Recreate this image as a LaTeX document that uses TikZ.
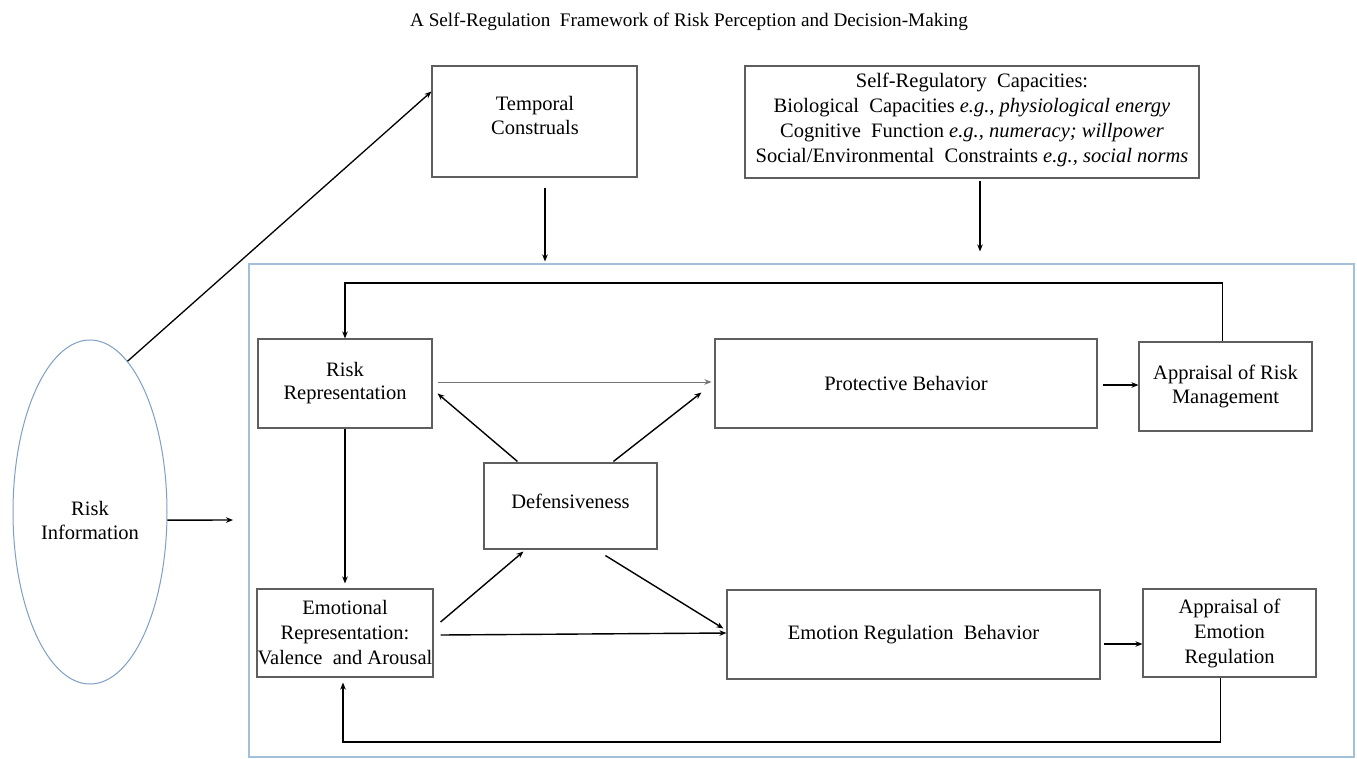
\documentclass[tikz,border=0pt]{standalone}
\usepackage{fontspec}
\setmainfont{Liberation Serif}
\usetikzlibrary{arrows.meta,calc,shapes.geometric}
\definecolor{framecol}{HTML}{A3C0DA}
\definecolor{ellcol}{HTML}{7F9FC6}
\definecolor{boxcol}{HTML}{5E5E5E}
\begin{document}
\begin{tikzpicture}[x=1pt,y=-1pt,
  box/.style={draw=boxcol, line width=1.1pt, align=center, inner sep=0pt, font=\fontsize{20.5}{24}\selectfont},
  lbl/.style={align=center, inner sep=0pt, font=\fontsize{20.5}{24}\selectfont},
  arr/.style={-{Stealth[length=7pt,width=5.5pt]}, line width=1.4pt, black},
  thinarr/.style={-{Stealth[length=7pt,width=5.5pt]}, line width=1pt, black!55}
]
\useasboundingbox (0,0) rectangle (1357,758);
\fill[white] (0,0) rectangle (1357,758);

\node[lbl, font=\fontsize{19.2}{22}\selectfont] (title) at (689,22) {A Self-Regulation\ \ Framework of Risk Perception and Decision-Making};

\node[draw=framecol, line width=1.1pt, minimum width=1105, minimum height=493, inner sep=0pt] (frame) at (801.5,510.5) {};

\node[draw=ellcol, line width=1pt, ellipse, minimum width=154, minimum height=344, inner sep=0pt] (ri) at (90,512) {};
\node[lbl] (rit) at (90,520) {Risk\\Information};

\node[box, minimum width=205, minimum height=111] (tc) at (534.5,121.5) {};
\node[lbl] (tct) at (535,115) {Temporal\\Construals};

\node[box, minimum width=454, minimum height=112] (src) at (972,122) {};
\node[lbl, font=\fontsize{20.5}{25}\selectfont] (srct) at (972,120) {Self-Regulatory\ \ Capacities:\\
Biological\ \ Capacities \textit{e.g., physiological energy}\\
Cognitive\ \ Function \textit{e.g., numeracy; willpower}\\
Social/Environmental\ \ Constraints \textit{e.g., social norms}};

\node[box, minimum width=174, minimum height=89, font=\fontsize{20.5}{23}\selectfont] (rr) at (345,383.5) {Risk\\Representation};
\node[box, minimum width=382, minimum height=89] (pb) at (906,383.5) {Protective Behavior};
\node[box, minimum width=173, minimum height=89] (arm) at (1225.5,386.5) {Appraisal of Risk\\Management};
\node[box, minimum width=173, minimum height=86] (def) at (570.5,506) {};
\node[lbl] (deft) at (570.5,501) {Defensiveness};
\node[box, minimum width=176, minimum height=88, font=\fontsize{20.5}{25}\selectfont] (er) at (345,633) {Emotional\\Representation:\\Valence\ \ and Arousal};
\node[box, minimum width=373, minimum height=89] (erb) at (913.5,634.5) {Emotion Regulation\ \ Behavior};
\node[box, minimum width=173, minimum height=88, font=\fontsize{20.5}{25}\selectfont] (aer) at (1229.5,633) {Appraisal of\\Emotion\\Regulation};

\coordinate (topline) at (0,283);
\coordinate (botline) at (0,742);
\coordinate (rin) at (233,520);

% top arrows
\draw[arr] ($(tc.south)+(10.5,10)$) -- ($(tc.south |- frame.north)+(10.5,-2)$);
\draw[arr] ($(src.south)+(8,2)$) -- ($(src.south |- frame.north)+(8,-12)$);
\draw[arr, line width=1.3pt] (ri.76) -- ($(tc.west)+(0,-30)$);
\draw[arr] (ri.-6) -- (rin);

% feedback loops
\draw[arr] ($(arm.north)+(-3,0)$) -- ($(arm.north |- topline)+(-3,0)$) -- (rr.north |- topline) -- (rr.north);
\draw[arr] ($(aer.south)+(-9,0)$) -- ($(aer.south |- botline)+(-9,0)$) -- ($(er.south |- botline)+(-2,0)$) -- ($(er.south)+(-2,5)$);

% main flows
\draw[thinarr] ($(rr.east)+(5,-1.5)$) -- ($(pb.west)+(-3,-1.5)$);
\draw[arr] (rr.south) -- ($(er.north)+(0,-5)$);
\draw[arr] ($(pb.east)+(5,1.5)$) -- ($(arm.west)+(0,-1.5)$);
\draw[arr] ($(erb.east)+(3,9.5)$) -- ($(aer.west)+(0,11)$);
\draw[arr] ($(er.east)+(7,2)$) -- ($(erb.west)+(0,-1.5)$);

% defensiveness arrows
\draw[arr] ($(def.north west)+(34,-1)$) -- ($(rr.east)+(5,10)$);
\draw[arr] ($(def.north west)+(130,-1)$) -- ($(pb.west)+(-13,9)$);
\draw[arr] ($(er.east)+(7,-11)$) -- ($(def.south west)+(40,2)$);
\draw[arr] ($(def.south west)+(122,6)$) -- ($(erb.west)+(-3,-6)$);
\end{tikzpicture}
\end{document}
